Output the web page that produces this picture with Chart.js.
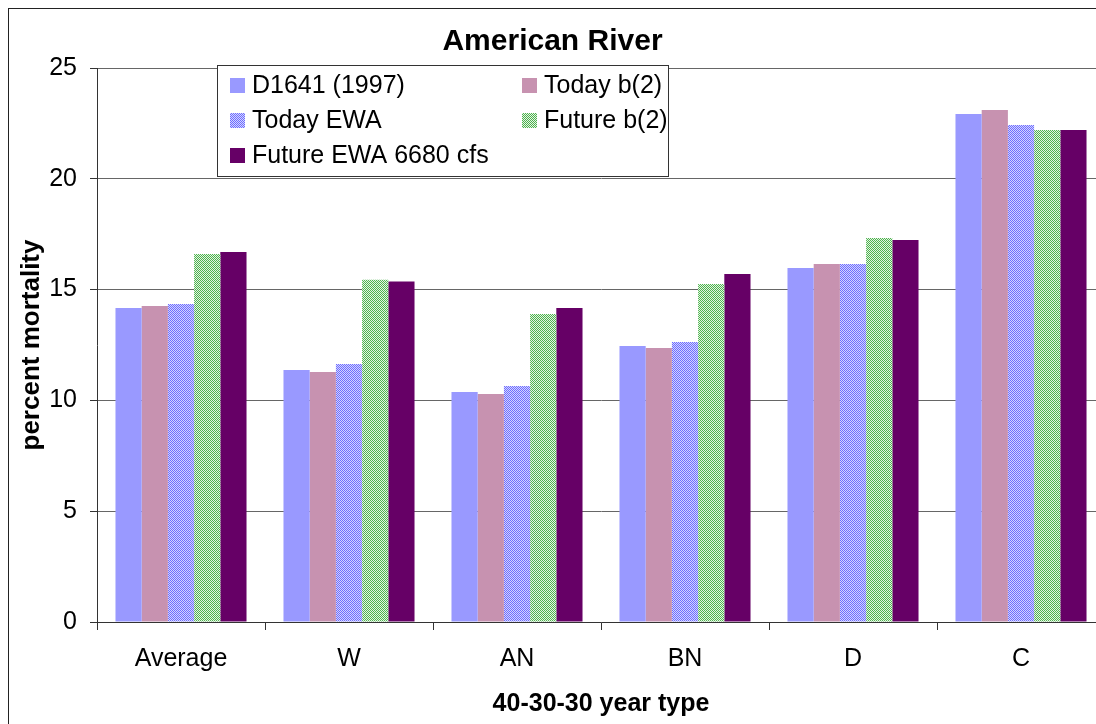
<!DOCTYPE html>
<html>
<head>
<meta charset="utf-8">
<script src="https://cdn.jsdelivr.net/npm/chart.js@4.4.0/dist/chart.umd.min.js"></script>
<style>
  html, body { margin: 0; padding: 0; overflow: hidden; background: #fff; }
  canvas { display: block; }
</style>
</head>
<body>
<canvas id="riverChart" width="1110" height="740" style="width:1110px;height:740px"></canvas>
<script>
const yearTypes = ['Average', 'W', 'AN', 'BN', 'D', 'C'];
const seriesNames = ['D1641 (1997)', 'Today b(2)', 'Today EWA', 'Future b(2)', 'Future EWA 6680 cfs'];

const d1641 = [14.17, 11.37, 10.38, 12.45, 15.97, 22.92];
const todayB2 = [14.26, 11.28, 10.29, 12.36, 16.16, 23.10];
const todayEWA = [14.35, 11.64, 10.65, 12.64, 16.16, 22.43];
const futureB2 = [16.61, 15.45, 13.90, 15.25, 17.33, 22.20];
const futureEWA = [16.70, 15.36, 14.17, 15.70, 17.24, 22.20];

const yTicks = [0, 5, 10, 15, 20, 25];

const FONT = "'Liberation Sans', Arial, sans-serif";

const ctx = document.getElementById('riverChart').getContext('2d');

// small 2x2 checker, looks like the excel pattern fills
function checker(c1, c2) {
  const p = document.createElement('canvas');
  p.width = 2;
  p.height = 2;
  const g = p.getContext('2d');
  g.fillStyle = c2;
  g.fillRect(0, 0, 2, 2);
  g.fillStyle = c1;
  g.fillRect(0, 0, 1, 1);
  g.fillRect(1, 1, 1, 1);
  return ctx.createPattern(p, 'repeat');
}

const fills = [
  '#9999ff',
  '#c792b0',
  checker('#6e6eff', '#d4d4ff'),
  checker('#4fb34f', '#e4f4e4'),
  '#660066'
];

const seriesData = [d1641, todayB2, todayEWA, futureB2, futureEWA];

const frame = {
  id: 'frame',
  beforeDraw(chart) {
    const c = chart.ctx;
    c.save();
    c.strokeStyle = '#222';
    c.lineWidth = 1;
    c.strokeRect(8.5, 8.5, chart.width + 20, chart.height + 20);
    c.restore();
  }
};

// legend box sits inside the plot, two columns like the excel one
const boxLegend = {
  id: 'boxLegend',
  afterDatasetsDraw(chart) {
    const c = chart.ctx;
    c.save();
    c.fillStyle = '#fff';
    c.fillRect(217, 65, 451, 111);
    c.strokeStyle = '#333';
    c.lineWidth = 1;
    c.strokeRect(217.5, 65.5, 451, 111);
    const cols = [230, 522];
    const rows = [85, 120, 155];
    c.font = '25px ' + FONT;
    c.textBaseline = 'middle';
    chart.data.datasets.forEach((ds, i) => {
      const x = cols[i % 2];
      const y = rows[Math.floor(i / 2)];
      c.fillStyle = ds.backgroundColor;
      c.fillRect(x, y - 7, 15, 15);
      c.fillStyle = '#000';
      c.fillText(ds.label, x + 22, y + 1);
    });
    c.restore();
  }
};

const myChart = new Chart(ctx, {
  type: 'bar',
  data: {
    labels: yearTypes,
    datasets: seriesNames.map((name, i) => ({
      label: name,
      data: seriesData[i],
      backgroundColor: fills[i],
      borderWidth: 0,
      barPercentage: 1,
      categoryPercentage: 0.78
    }))
  },
  options: {
    responsive: false,
    animation: false,
    devicePixelRatio: 1,
    layout: {
      padding: { left: 0, right: 5, top: 0, bottom: 0 }
    },
    plugins: {
      legend: { display: false },
      tooltip: { enabled: false },
      title: {
        display: true,
        text: 'American River',
        color: '#000',
        font: { family: FONT, size: 30, weight: 'bold' },
        padding: { top: 24, bottom: 8 }
      }
    },
    scales: {
      x: {
        afterFit: s => { s.height = 118; },
        grid: {
          display: true,
          offset: true,
          drawOnChartArea: false,
          drawTicks: true,
          tickLength: 8,
          tickColor: '#333'
        },
        border: { color: '#333', width: 1 },
        ticks: {
          color: '#000',
          padding: 14,
          font: { family: FONT, size: 25 },
          maxRotation: 0
        },
        title: {
          display: true,
          text: '40-30-30 year type',
          color: '#000',
          font: { family: FONT, size: 25, weight: 'bold' },
          padding: { top: 0, bottom: 21 }
        }
      },
      y: {
        min: 0,
        max: 25,
        afterFit: s => { s.width = 97; },
        afterBuildTicks: s => { s.ticks = yTicks.map(v => ({ value: v })); },
        grid: {
          color: '#666',
          lineWidth: 1,
          drawTicks: true,
          tickLength: 7,
          tickColor: '#333'
        },
        border: { color: '#333', width: 1 },
        ticks: {
          color: '#000',
          padding: 13,
          font: { family: FONT, size: 25 }
        },
        title: {
          display: true,
          text: 'percent mortality',
          color: '#000',
          font: { family: FONT, size: 26, weight: 'bold' },
          padding: { top: 16, bottom: 0 }
        }
      }
    }
  },
  plugins: [frame, boxLegend]
});
</script>
</body>
</html>
